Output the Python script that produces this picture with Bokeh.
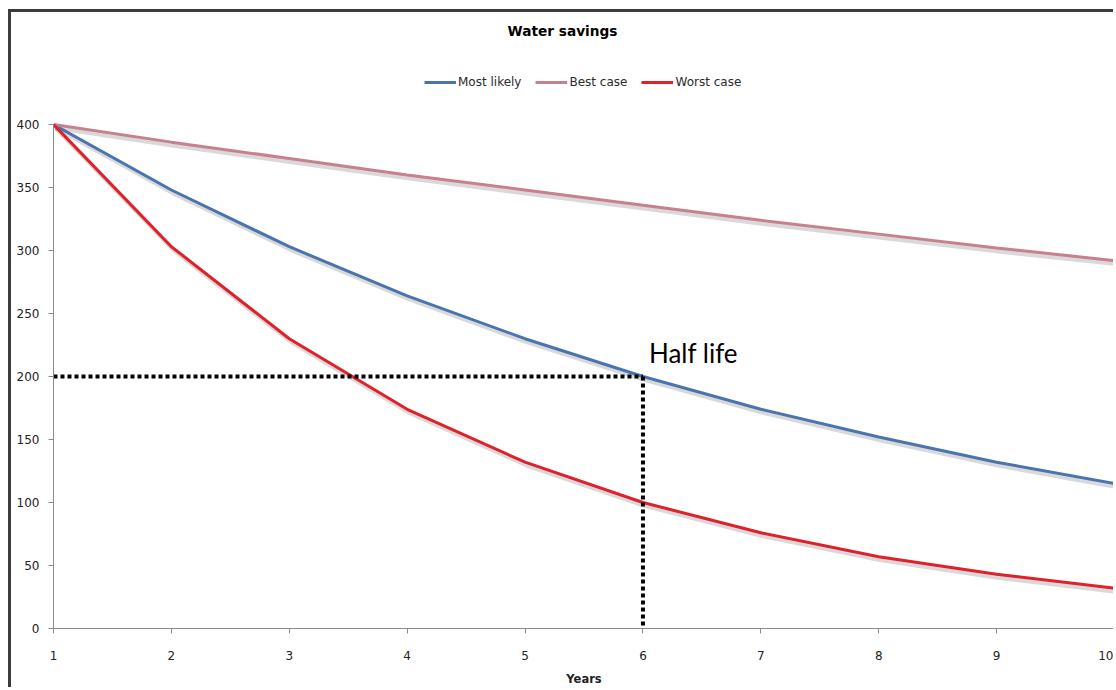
from bokeh.plotting import figure
from bokeh.models import Range1d, FixedTicker, Legend, LegendItem, Label
from bokeh.embed import file_html
from bokeh.resources import INLINE

# ---- data ----
years = [1, 2, 3, 4, 5, 6, 7, 8, 9, 10]
most_likely = [400, 348, 303, 264, 230, 200, 174, 152, 132, 115]
best_case = [400, 386, 373, 360, 348, 336, 324, 313, 302, 292]
worst_case = [400, 303, 230, 174, 132, 100, 76, 57, 43, 32]
y_ticks = [0, 50, 100, 150, 200, 250, 300, 350, 400]
x_ticks = years
half_life_year = 6
half_value = 200
start_year = 1
y_min, y_max = 0, 400

FONT = "DejaVu Sans"

# ---- layout (pixels) ----
W, H = 1105, 678            # canvas (page offset 11, 12 by margin + border)
frame_left, frame_right = 42, 1103
axis_top_px = 112           # where y_max sits, from canvas top
frame_bottom_px = 616
plot_h = frame_bottom_px - axis_top_px
frame_h = frame_bottom_px   # frame extends up to canvas top
px_per_y = plot_h / (y_max - y_min)
y_top = y_min + frame_h / px_per_y
px_per_x = (frame_right - frame_left) / (x_ticks[-1] - x_ticks[0])

p = figure(width=W, height=H, output_backend="svg", toolbar_location=None,
           x_range=Range1d(x_ticks[0], x_ticks[-1]), y_range=Range1d(y_min, y_top),
           min_border_left=frame_left, min_border_right=W - frame_right,
           min_border_top=0, min_border_bottom=H - frame_bottom_px,
           margin=(9, 0, 0, 8),
           styles={"border-top": "3px solid #3c3c3c", "border-left": "3px solid #3c3c3c"})
p.outline_line_color = None
p.xgrid.visible = False
p.ygrid.visible = False
p.background_fill_color = "white"
p.border_fill_color = "white"
p.title.text = ""

# title as label (centre at canvas x=551, y=18)
p.add_layout(Label(x=x_ticks[0] + (551 - frame_left) / px_per_x,
                   y=y_min + (frame_bottom_px - 18) / px_per_y,
                   text="Water savings", text_align="center", text_baseline="middle",
                   text_font=FONT, text_font_size="13.7px", text_font_style="bold",
                   text_color="#000000"))

# shadows
sh_dx = 0.02
sh_dy = -2.5
for ys in (best_case, most_likely, worst_case):
    p.line([x + sh_dx for x in years], [y + sh_dy for y in ys],
           line_color="#000000", line_alpha=0.15, line_width=5)

r_ml = p.line(years, most_likely, line_color="#4A74B0", line_width=3)
r_bc = p.line(years, best_case, line_color="#C8808F", line_width=3)
r_wc = p.line(years, worst_case, line_color="#E0202A", line_width=3)

# half-life markers
p.line([start_year, half_life_year], [half_value, half_value],
       line_color="black", line_width=4, line_dash="4 3")
p.line([half_life_year, half_life_year], [half_value, y_min],
       line_color="black", line_width=4, line_dash="4 3")
p.add_layout(Label(x=half_life_year, y=half_value, text="Half life",
                   x_offset=6, y_offset=8, text_font="Lato", text_font_size="26px",
                   text_color="black", text_baseline="bottom"))

legend = Legend(items=[LegendItem(label="Most likely", renderers=[r_ml]),
                       LegendItem(label="Best case", renderers=[r_bc]),
                       LegendItem(label="Worst case", renderers=[r_wc])],
                orientation="horizontal",
                location=(413 - frame_left, frame_bottom_px - 70 - 7),
                label_text_font=FONT, label_text_font_size="12px",
                label_text_color="#2a2a2a", glyph_width=32, glyph_height=14,
                label_height=14, label_standoff=2, spacing=14, padding=0, margin=0,
                border_line_color=None, background_fill_alpha=0)
p.add_layout(legend)

for ax in (p.xaxis[0], p.yaxis[0]):
    ax.axis_line_color = "#8a8a8a"
    ax.major_tick_line_color = "#8a8a8a"
    ax.minor_tick_line_color = None
    ax.major_tick_in = 0
    ax.major_tick_out = 5
    ax.major_label_text_font = FONT
    ax.major_label_text_font_size = "12px"
    ax.major_label_text_color = "#222222"

p.yaxis[0].bounds = (y_min, y_max)
p.xaxis[0].ticker = FixedTicker(ticks=x_ticks)
p.yaxis[0].ticker = FixedTicker(ticks=y_ticks)
p.xaxis[0].major_label_standoff = 17
p.yaxis[0].major_label_standoff = 9
p.xaxis[0].axis_label = "Years"
p.xaxis[0].axis_label_text_font = FONT
p.xaxis[0].axis_label_text_font_size = "11.5px"
p.xaxis[0].axis_label_text_font_style = "bold"
p.xaxis[0].axis_label_text_color = "#222222"
p.xaxis[0].axis_label_standoff = 9

open("out.html", "w").write(file_html(p, INLINE))
